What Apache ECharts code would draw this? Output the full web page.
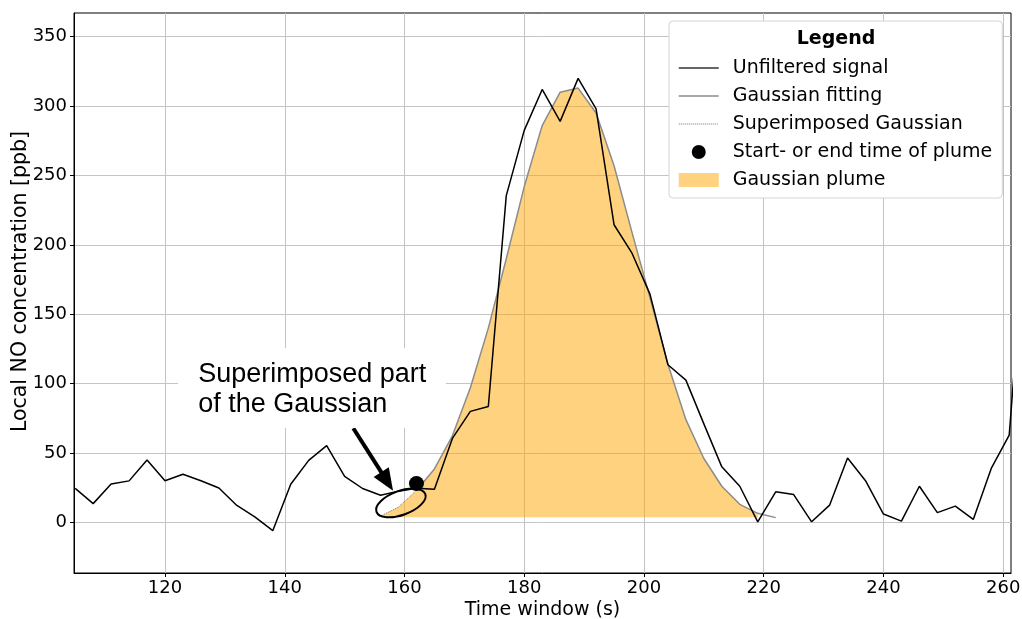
<!DOCTYPE html>
<html><head><meta charset="utf-8">
<script src="https://cdn.jsdelivr.net/npm/echarts@6/dist/echarts.min.js"></script>
<style>html,body{margin:0;padding:0;background:#fff}#c{width:1022px;height:619px}</style>
</head><body><div id="c"></div>
<script>
// ---- data ----
const timeS = [105,108,111,114,117,120,123,126,129,132,135,138,141,144,147,150,153,156,159,162,165,168,171,174,177,180,183,186,189,192,195,198,201,204,207,210,213,216,219,222,225,228,231,234,237,240,243,246,249,252,255,258,261,264];
const unfiltered = [24.5,13.5,27.7,29.9,45,30,34.7,30,24.8,12.2,4,-6,27.5,44.7,55.3,33.2,24.4,19.5,22.5,24.5,23.8,60.5,80,83.5,235.5,282.5,312,289,320,298,214.5,194,164.5,113.6,102.5,71,40,26,0.4,22,20,0.4,12.4,46.4,30,6,0.9,26,7,11.7,2.1,38.9,62.9,230];
const gaussTime = [156,159,162,165,168,171,174,177,180,183,186,189,192,195,198,201,204,207,210,213,216,219,222];
const gaussValue = [4.5,11,23,38.5,62.4,97,140,190,242,286,310,313,295,257,209,162,114,74,46,26,13,6.5,3.4];
const superTime = [156,159,162];
const superValue = [4.5,11,23];
const plumeEnd = 219;
const plumeBase = 3.6;
const startTime = [162];
const startValue = [28];
const xTicks = [120,140,160,180,200,220,240,260];
const yTicks = [0,50,100,150,200,250,300,350];

const xMin = 104.8, xMax = 261.3, yMin = -36.5, yMax = 367.1;

const signalData = timeS.map((t,i)=>[t, unfiltered[i]]);
const fitData = gaussTime.map((t,i)=>[t, gaussValue[i]]).filter(d=>d[0]>=162);
const superData = superTime.map((t,i)=>[t, superValue[i]]);
const plumePts = gaussTime.map((t,i)=>[t, gaussValue[i]]).filter(d=>d[0]<=plumeEnd);
const startData = startTime.map((t,i)=>[t, startValue[i]]);

const FONT = 'DejaVu Sans';
const ORANGE = 'rgba(255,165,0,0.5)';
const chart = echarts.init(document.getElementById('c'), null, {renderer:'canvas'});

const option = {
  animation: false,
  backgroundColor: '#fff',
  grid: {left:74, right:11, top:13, bottom:46, containLabel:false, outerBoundsMode:'none',
         show:true, borderColor:'#000', borderWidth:1, backgroundColor:'transparent'},
  xAxis: {
    type:'value', min:xMin, max:xMax,
    name:'Time window (s)', nameLocation:'middle', nameGap:28, nameMoveOverlap:false,
    nameTextStyle:{fontFamily:FONT, fontSize:19, color:'#000'},
    axisLine:{show:true, onZero:false, lineStyle:{color:'#000', width:1}},
    axisTick:{show:true, length:4, customValues:xTicks, lineStyle:{color:'#000'}},
    axisLabel:{customValues:xTicks, fontFamily:FONT, fontSize:18, color:'#000', margin:6},
    splitLine:{show:true, lineStyle:{color:'#c4c4c4', width:1}}
  },
  yAxis: {
    type:'value', min:yMin, max:yMax,
    name:'Local NO concentration [ppb]', nameLocation:'middle', nameGap:43, nameMoveOverlap:false,
    nameTextStyle:{fontFamily:FONT, fontSize:20.5, color:'#000', padding:[0,0,0,23]},
    axisLine:{show:true, onZero:false, lineStyle:{color:'#000', width:1}},
    axisTick:{show:true, length:4, customValues:yTicks, lineStyle:{color:'#000'}},
    axisLabel:{customValues:yTicks, fontFamily:FONT, fontSize:18, color:'#000', margin:7},
    splitLine:{show:true, lineStyle:{color:'#c4c4c4', width:1}}
  },
  legend: {
    orient:'vertical', left:669, top:21,
    padding:[37, 10, 8, 9],
    itemWidth:40, itemHeight:14, itemGap:8,
    backgroundColor:'#fff', borderColor:'#d4d4d4', borderWidth:1, borderRadius:4,
    textStyle:{fontFamily:FONT, fontSize:19, color:'#000', lineHeight:20, padding:[0,0,0,9]},
    data:[
      {name:'Unfiltered signal', itemStyle:{opacity:0}, lineStyle:{width:1.5, color:'#333'}},
      {name:'Gaussian fitting', itemStyle:{opacity:0}, lineStyle:{width:1.5, color:'#8c8c8c'}},
      {name:'Superimposed Gaussian', itemStyle:{opacity:0}, lineStyle:{width:1, color:'#777', type:'dotted'}},
      {name:'Start- or end time of plume', itemStyle:{color:'#000', opacity:1}},
      {name:'Gaussian plume', icon:'rect', itemStyle:{color:ORANGE, opacity:1}}
    ]
  },
  series: [
    {name:'Gaussian plume', type:'custom', data:plumePts, encode:{x:0, y:1}, silent:true, clip:true, z:1,
     itemStyle:{color:ORANGE},
     renderItem:(params, api)=>{
       if (params.dataIndex !== 0) return null;
       const top = plumePts.map(d=>api.coord(d));
       const bottom = plumePts.slice().reverse().map(d=>api.coord([d[0], plumeBase]));
       return {type:'polygon', shape:{points: top.concat(bottom)}, style:{fill:ORANGE}};
     }},
    {name:'Gaussian fitting', type:'line', data:fitData, symbol:'none', silent:true,
     color:'#8c8c8c', lineStyle:{color:'#8c8c8c', width:1.5}, z:2},
    {name:'Superimposed Gaussian', type:'line', data:superData, symbol:'none', silent:true,
     color:'#777', lineStyle:{color:'#777', width:1, type:'dotted'}, z:2},
    {name:'Unfiltered signal', type:'line', data:signalData, symbol:'none', silent:true,
     color:'#000', lineStyle:{color:'#000', width:1.5}, z:3,
     markLine:{silent:true, symbol:['none','triangle'], symbolSize:[18,22],
       lineStyle:{color:'#000', width:4, type:'solid', opacity:1}, label:{show:false},
       data:[[{coord:[151.45, 67.8]},{coord:[157.1, 29.5]}]]}},
    {name:'Start- or end time of plume', type:'scatter', data:startData, symbol:'circle', symbolSize:15,
     color:'#000', itemStyle:{color:'#000', opacity:1}, silent:true, z:4}
  ]
};
chart.setOption(option);

// annotation (positioned through the chart's own scales)
const p = (x,y)=>chart.convertToPixel({gridIndex:0}, [x,y]);
const boxA = p(122.2, 125.6), boxB = p(166.9, 68);
const ell = p(159.4, 14);
chart.setOption({
  graphic:[
    {type:'rect', z:50, shape:{x:boxA[0], y:boxA[1], width:boxB[0]-boxA[0], height:boxB[1]-boxA[1]},
     style:{fill:'#fff'}},
    {type:'text', z:51, x:boxA[0]+20, y:boxA[1]+11,
     style:{text:'Superimposed part\nof the Gaussian', fontFamily:'Liberation Sans', fontSize:27, lineHeight:30,
       fill:'#000', align:'left', verticalAlign:'top'}},
    {type:'ellipse', z:52, x:ell[0], y:ell[1], rotation:20*Math.PI/180,
     shape:{cx:0, cy:0, rx:26, ry:12}, style:{fill:'none', stroke:'#000', lineWidth:2}},
    {type:'text', z:60, x:836, y:39,
     style:{text:'Legend', fontFamily:FONT, fontSize:19, fontWeight:'bold', fill:'#000',
       align:'center', verticalAlign:'middle'}}
  ]
});
</script>
</body></html>
